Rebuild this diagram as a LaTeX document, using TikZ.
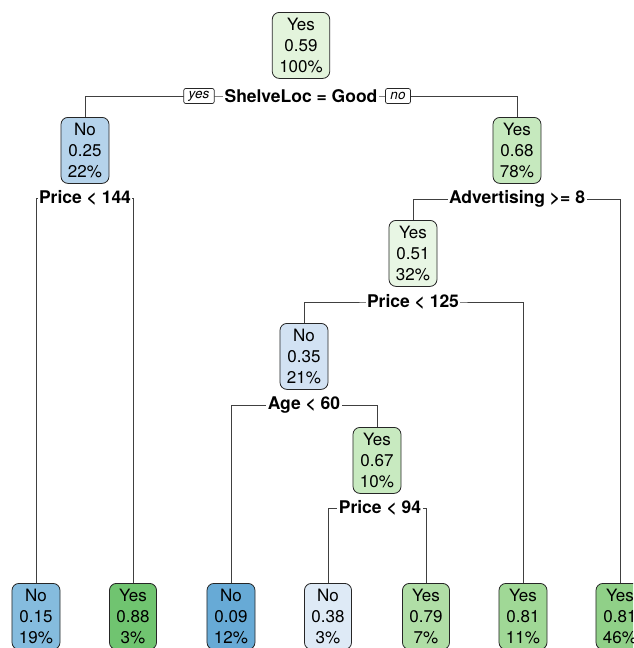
\documentclass[tikz,border=0pt]{standalone}
\usepackage{fontspec}
\setmainfont{TeX Gyre Heros}
\definecolor{c59}{HTML}{E3F4DC}
\definecolor{c25}{HTML}{B5D3EB}
\definecolor{c68}{HTML}{C6E9BE}
\definecolor{c51}{HTML}{E8F6E4}
\definecolor{c35}{HTML}{D2E2F3}
\definecolor{c67}{HTML}{C8EAC0}
\definecolor{c15}{HTML}{85BCDE}
\definecolor{c88}{HTML}{70C470}
\definecolor{c09}{HTML}{67AAD6}
\definecolor{c38}{HTML}{DEEAF6}
\definecolor{c79}{HTML}{B0DEA6}
\definecolor{c81a}{HTML}{A0D896}
\definecolor{c81b}{HTML}{90D088}
\tikzset{
  tnode/.style={draw=black!85, line width=0.8pt, rounded corners=7pt,
    minimum height=66pt, inner xsep=7pt, inner ysep=0pt, align=center,
    font=\fontsize{17}{21}\selectfont, anchor=north},
  splitlab/.style={fill=white, inner xsep=1.5pt, inner ysep=1pt,
    font=\bfseries\fontsize{17.5}{19}\selectfont},
  edge/.style={draw=black!75, line width=0.8pt},
  yn/.style={draw=black!85, fill=white, rounded corners=2pt, line width=0.7pt,
    font=\itshape\fontsize{13.5}{14}\selectfont, minimum height=15pt,
    inner xsep=5pt, inner ysep=0pt}
}
\begin{document}
\begin{tikzpicture}[x=1pt,y=-1pt]
\useasboundingbox (0,0) rectangle (633,648);
\clip (0,0) rectangle (633,648);
% nodes
\node[tnode, fill=c59] (root) at (301,12) {Yes\\0.59\\100\%};
\node[tnode, fill=c25] (n2) at (85,117) {No\\0.25\\22\%};
\node[tnode, fill=c68] (n3) at (517,117) {Yes\\0.68\\78\%};
\node[tnode, fill=c51] (n4) at (413,220) {Yes\\0.51\\32\%};
\node[tnode, fill=c35] (n5) at (304,323) {No\\0.35\\21\%};
\node[tnode, fill=c67] (n6) at (377,427) {Yes\\0.67\\10\%};
\node[tnode, fill=c15] (l1) at (36,583) {No\\0.15\\19\%};
\node[tnode, fill=c88] (l2) at (133,583) {Yes\\0.88\\3\%};
\node[tnode, fill=c09] (l3) at (231,583) {No\\0.09\\12\%};
\node[tnode, fill=c38] (l4) at (328,583) {No\\0.38\\3\%};
\node[tnode, fill=c79] (l5) at (426,583) {Yes\\0.79\\7\%};
\node[tnode, fill=c81a] (l6) at (523,583) {Yes\\0.81\\11\%};
\node[tnode, fill=c81b] (l7) at (620,583) {Yes\\0.81\\46\%};
% split points
\coordinate (c1) at (301,96);
\coordinate (c2) at (85,198);
\coordinate (c3) at (517,199);
\coordinate (c4) at (413,302);
\coordinate (c5) at (304,405);
\coordinate (c6) at (380,508);
% connectors
\draw[edge] (n2.north) |- (c1) -| (n3.north);
\draw[edge] (l1.north) |- (c2) -| (l2.north);
\draw[edge] (n4.north) |- (c3) -| (l7.north);
\draw[edge] (n5.north) |- (c4) -| (l6.north);
\draw[edge] (l3.north) |- (c5) -| (n6.north);
\draw[edge] (l4.north) |- (c6) -| (l5.north);
% split labels
\node[splitlab] (s1) at (c1) {ShelveLoc = Good};
\node[splitlab] (s2) at (c2) {Price < 144};
\node[splitlab] (s3) at (c3) {Advertising >= 8};
\node[splitlab] (s4) at (c4) {Price < 125};
\node[splitlab] (s5) at (c5) {Age < 60};
\node[splitlab] (s6) at (c6) {Price < 94};
\node[yn] (yes) at (199,96) {yes};
\node[yn] (no) at (398,96) {no};
\end{tikzpicture}
\end{document}
